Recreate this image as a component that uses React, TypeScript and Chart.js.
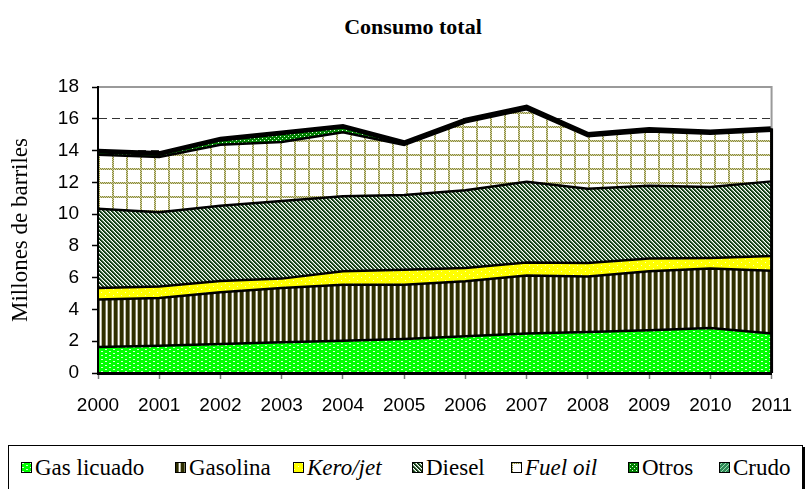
import React, { useEffect, useRef } from "react";
import { Chart, registerables } from "chart.js";

Chart.register(...registerables);

// ---------- data ----------
const years = ["2000", "2001", "2002", "2003", "2004", "2005", "2006", "2007", "2008", "2009", "2010", "2011"];
const gasLicuado = [1.64, 1.72, 1.83, 1.93, 2.03, 2.14, 2.31, 2.48, 2.58, 2.69, 2.83, 2.48];
const gasolina = [2.98, 3.0, 3.25, 3.42, 3.53, 3.42, 3.46, 3.65, 3.5, 3.71, 3.74, 3.96];
const keroJet = [0.73, 0.73, 0.71, 0.59, 0.84, 0.94, 0.84, 0.83, 0.84, 0.8, 0.67, 0.92];
const diesel = [4.99, 4.66, 4.74, 4.88, 4.72, 4.7, 4.89, 5.08, 4.68, 4.59, 4.46, 4.7];
const fuelOil = [3.4, 3.48, 3.84, 3.72, 4.03, 3.15, 4.28, 4.56, 3.3, 3.41, 3.35, 3.19];
const otros = [0.15, 0.15, 0.27, 0.5, 0.3, 0.05, 0.04, 0.04, 0.05, 0.05, 0.05, 0.05];
const crudo = [0.1, 0.1, 0.1, 0.1, 0.1, 0.12, 0.12, 0.12, 0.1, 0.1, 0.1, 0.1];

const seriesNames = ["Gas licuado", "Gasolina", "Kero/jet", "Diesel", "Fuel oil", "Otros", "Crudo"];
const italicNames = [false, false, true, false, true, false, false];
const chartTitle = "Consumo total";
const yAxisTitle = "Millones de barriles";
const yMin = 0;
const yMax = 18;
const yStep = 2;

// ---------- patterns ----------
type Painter = (c: CanvasRenderingContext2D) => void;
function tile(w: number, h: number, paint: Painter): HTMLCanvasElement {
  const c = document.createElement("canvas");
  c.width = w;
  c.height = h;
  const x = c.getContext("2d")!;
  paint(x);
  return c;
}

function px(c: CanvasRenderingContext2D, color: string, x: number, y: number, w = 1, h = 1) {
  c.fillStyle = color;
  c.fillRect(x, y, w, h);
}

const tileMakers: (() => HTMLCanvasElement)[] = [
  // Gas licuado: bright green with small white dashes
  () =>
    tile(8, 4, (c) => {
      px(c, "#00ff00", 0, 0, 8, 4);
      px(c, "#d8ffd8", 1, 1, 2, 1);
      px(c, "#d8ffd8", 5, 3, 2, 1);
    }),
  // Gasolina: dark olive vertical stripes
  () =>
    tile(6, 1, (c) => {
      px(c, "#ffffff", 0, 0, 6, 1);
      px(c, "#2e2e00", 0, 0, 3, 1);
      px(c, "#7a7a5a", 3, 0, 1, 1);
      px(c, "#b8b8a0", 5, 0, 1, 1);
    }),
  // Kero/jet: yellow with sparse white dots
  () =>
    tile(8, 6, (c) => {
      px(c, "#ffff00", 0, 0, 8, 6);
      px(c, "#ffffc0", 1, 1, 1, 1);
      px(c, "#ffffc0", 5, 4, 1, 1);
    }),
  // Diesel: dark green diagonal stripes
  () =>
    tile(4, 4, (c) => {
      px(c, "#ffffff", 0, 0, 4, 4);
      for (let y = 0; y < 4; y++) {
        px(c, "#0c330e", y % 4, y);
        px(c, "#1f4a21", (y + 1) % 4, y);
        px(c, "#8aa88a", (y + 2) % 4, y);
      }
    }),
  // Fuel oil: white with dotted olive grid (2px wide dotted lines)
  () =>
    tile(14, 14, (c) => {
      px(c, "#ffffff", 0, 0, 14, 14);
      for (let i = 0; i < 14; i++) {
        const col = i % 2 === 0 ? "#8a8a3a" : "#d2d2a6";
        px(c, col, 0, i, 1, 1);
        px(c, i % 2 === 0 ? "#d2d2a6" : "#8a8a3a", 1, i, 1, 1);
        px(c, col, i, 0, 1, 1);
        px(c, i % 2 === 0 ? "#d2d2a6" : "#8a8a3a", i, 1, 1, 1);
      }
    }),
  // Otros: green with white checker dots
  () =>
    tile(4, 4, (c) => {
      px(c, "#008000", 0, 0, 4, 4);
      px(c, "#e0ffe0", 0, 0);
      px(c, "#e0ffe0", 2, 2);
    }),
  // Crudo: sea green with light diagonal
  () =>
    tile(4, 4, (c) => {
      px(c, "#2e8b57", 0, 0, 4, 4);
      for (let y = 0; y < 4; y++) px(c, "#9fd8b0", (3 - y + 4) % 4, y);
    }),
];

const seriesData = [gasLicuado, gasolina, keroJet, diesel, fuelOil, otros, crudo];

const legendX = [21, 175, 293, 412, 511, 628, 719];

const framePlugin = {
  id: "frame",
  afterDatasetsDraw(chart: any) {
    const { ctx, chartArea: a, scales } = chart;
    const y = scales.y;
    const last = years.length - 1;
    let total = 0;
    seriesData.forEach((s) => (total += s[last]));
    const yTot = y.getPixelForValue(total);
    ctx.save();
    ctx.strokeStyle = "#9a9a9a";
    ctx.lineWidth = 2;
    ctx.beginPath();
    ctx.moveTo(a.left, a.top);
    ctx.lineTo(a.right, a.top);
    ctx.lineTo(a.right, yTot);
    ctx.stroke();
    ctx.strokeStyle = "#000";
    ctx.lineWidth = 3;
    ctx.beginPath();
    ctx.moveTo(a.right, yTot);
    ctx.lineTo(a.right, a.bottom);
    ctx.stroke();
    ctx.restore();
  },
};

function Swatch({ index }: { index: number }) {
  const ref = useRef<HTMLCanvasElement>(null);
  useEffect(() => {
    const cv = ref.current;
    if (!cv) return;
    const c = cv.getContext("2d")!;
    const pat = c.createPattern(tileMakers[index](), "repeat")!;
    c.fillStyle = pat;
    c.fillRect(0, 0, 11, 11);
    c.strokeStyle = "#000";
    c.lineWidth = 1;
    c.strokeRect(0.5, 0.5, 10, 10);
  }, [index]);
  return <canvas ref={ref} width={11} height={11} style={{ display: "block", width: 11, height: 11 }} />;
}

export default function App() {
  const canvasRef = useRef<HTMLCanvasElement>(null);

  useEffect(() => {
    const cv = canvasRef.current;
    if (!cv) return;
    const ctx = cv.getContext("2d")!;
    const patterns = tileMakers.map((m) => ctx.createPattern(m(), "repeat")!);

    const datasets = seriesNames.map((name, i) => ({
      label: name,
      data: seriesData[i],
      backgroundColor: patterns[i],
      borderColor: "#000",
      borderWidth: i === seriesNames.length - 1 ? 4 : 2.5,
      pointRadius: 0,
      pointHoverRadius: 0,
      tension: 0,
      fill: i === 0 ? "origin" : "-1",
    }));

    const chart = new Chart(cv, {
      type: "line",
      data: { labels: years, datasets },
      plugins: [framePlugin],
      options: {
        animation: false,
        responsive: false,
        maintainAspectRatio: false,
        events: [],
        layout: { padding: { left: 0, top: 87, right: 25, bottom: 0 } },
        plugins: {
          legend: { display: false },
          title: { display: false },
          tooltip: { enabled: false },
        },
        scales: {
          x: {
            type: "category",
            offset: false,
            afterFit: (s: any) => {
              s.height = 67;
            },
            grid: {
              display: true,
              drawOnChartArea: false,
              drawTicks: true,
              tickLength: 6,
              tickColor: "#7a7a7a",
              tickWidth: 1.5,
            },
            border: { display: true, color: "#000", width: 3, z: 1 },
            ticks: {
              autoSkip: false,
              maxRotation: 0,
              minRotation: 0,
              padding: 15,
              color: "#000",
              font: { family: "'Liberation Sans', Arial, sans-serif", size: 19 },
            },
          },
          y: {
            stacked: true,
            min: yMin,
            max: yMax,
            afterFit: (s: any) => {
              s.width = 98;
            },
            ticks: {
              stepSize: yStep,
              padding: 13,
              color: "#000",
              font: { family: "'Liberation Sans', Arial, sans-serif", size: 19 },
            },
            grid: {
              color: (c: any) =>
                c.tick && (c.tick.value === yMin || c.tick.value === yMax) ? "rgba(0,0,0,0)" : "#333",
              lineWidth: 1,
              drawTicks: true,
              tickLength: 6,
              tickColor: "#000",
              tickWidth: 1.5,
              tickBorderDash: [],
            },
            border: { display: true, color: "#000", width: 2, dash: [8, 5], z: 1 },
            title: {
              display: true,
              text: yAxisTitle,
              color: "#000",
              font: { family: "'Liberation Serif', 'Times New Roman', serif", size: 23 },
              padding: { top: 7, bottom: 0 },
            },
          },
        },
      },
    });
    return () => chart.destroy();
  }, []);

  return (
    <div
      style={{
        position: "absolute",
        left: 0,
        top: 0,
        width: 807,
        height: 489,
        overflow: "hidden",
        background: "#fff",
      }}
    >
      <div
        style={{
          position: "absolute",
          left: 0,
          top: 14,
          width: 826,
          textAlign: "center",
          font: "bold 22px 'Liberation Serif', 'Times New Roman', serif",
          lineHeight: "26px",
          color: "#000",
        }}
      >
        {chartTitle}
      </div>
      <canvas
        ref={canvasRef}
        width={807}
        height={440}
        style={{ position: "absolute", left: 0, top: 0, width: 807, height: 440 }}
      />
      <div
        style={{
          position: "absolute",
          left: 8,
          top: 445,
          width: 793,
          height: 70,
          border: "1px solid #000",
          boxShadow: "2px 2px 0 #000",
          background: "#fff",
        }}
      />
      {seriesNames.map((name, i) => (
        <React.Fragment key={name}>
          <div style={{ position: "absolute", left: legendX[i], top: 462 }}>
            <Swatch index={i} />
          </div>
          <div
            style={{
              position: "absolute",
              left: legendX[i] + 14,
              top: 455,
              lineHeight: "26px",
              whiteSpace: "nowrap",
              font: `${italicNames[i] ? "italic " : ""}23px 'Liberation Serif', 'Times New Roman', serif`,
              color: "#000",
            }}
          >
            {name}
          </div>
        </React.Fragment>
      ))}
    </div>
  );
}
